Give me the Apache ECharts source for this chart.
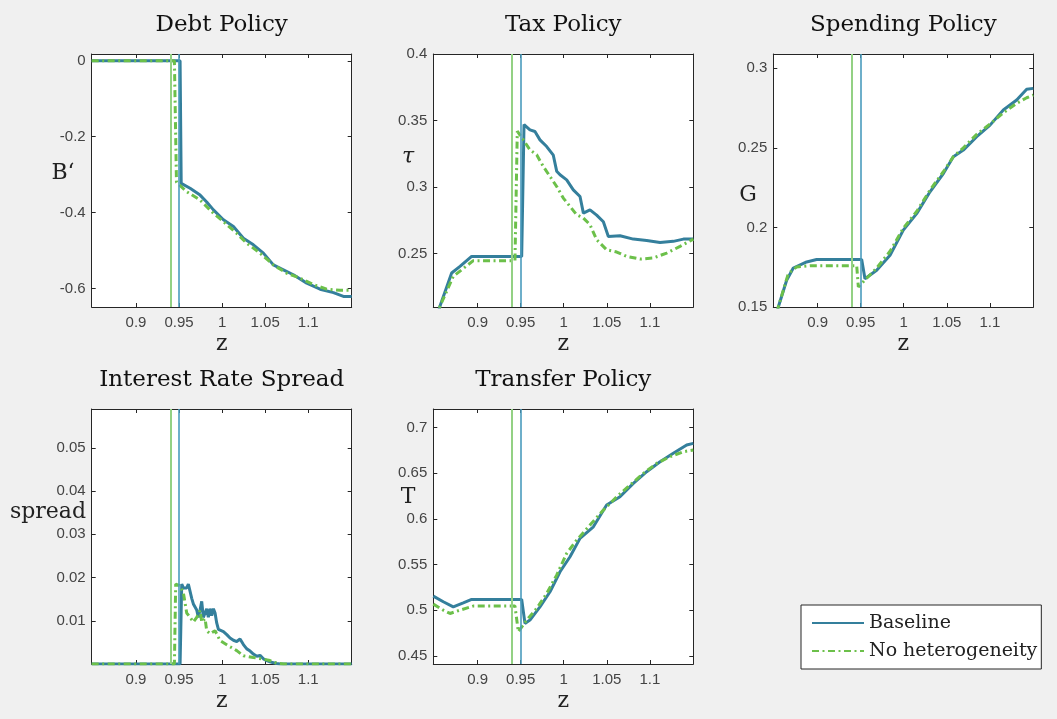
<!DOCTYPE html>
<html>
<head>
<meta charset="utf-8">
<script src="https://cdn.jsdelivr.net/npm/echarts@6/dist/echarts.min.js"></script>
<style>
html,body{margin:0;padding:0;background:#f0f0f0;}
#chart{width:1057px;height:719px;}
</style>
</head>
<body>
<div id="chart"></div>
<script>
// ---------- DATA ----------
const zTicks = [0.9, 0.95, 1, 1.05, 1.1];
const debtTicks = [-0.6, -0.4, -0.2, 0];
const taxTicks = [0.25, 0.3, 0.35, 0.4];
const spendTicks = [0.15, 0.2, 0.25, 0.3];
const spreadTicks = [0.01, 0.02, 0.03, 0.04, 0.05];
const transferTicks = [0.45, 0.5, 0.55, 0.6, 0.65, 0.7];

const thresholdBase = 0.9515;
const thresholdNoHet = 0.945;

// Debt policy B'
const debtBaseZ = [0.8486, 0.9512, 0.9525, 0.9628, 0.9744, 0.9821, 0.9899, 1.0015, 1.0131, 1.0247, 1.0363, 1.0479, 1.0595, 1.0711, 1.0827, 1.0982, 1.1137, 1.1292, 1.1408, 1.1504];
const debtBaseV = [0, 0, -0.323, -0.336, -0.354, -0.372, -0.393, -0.419, -0.437, -0.468, -0.485, -0.507, -0.538, -0.551, -0.564, -0.586, -0.602, -0.611, -0.621, -0.621];
const debtNoHetZ = [0.8486, 0.9446, 0.9470, 0.9589, 0.9744, 0.9899, 1.0015, 1.0170, 1.0286, 1.0440, 1.0595, 1.0750, 1.0905, 1.1060, 1.1214, 1.1369, 1.1504];
const debtNoHetV = [0, 0, -0.320, -0.345, -0.367, -0.402, -0.424, -0.455, -0.481, -0.507, -0.538, -0.560, -0.573, -0.590, -0.602, -0.605, -0.605];

// Tax policy tau
const taxBaseZ = [0.8490, 0.8563, 0.8699, 0.8796, 0.8931, 0.9512, 0.9539, 0.9608, 0.9666, 0.9724, 0.9802, 0.9879, 0.9918, 0.9957, 1.0034, 1.0111, 1.0189, 1.0228, 1.0305, 1.0382, 1.0460, 1.0518, 1.0653, 1.0808, 1.0963, 1.1118, 1.1272, 1.1389, 1.1504];
const taxBaseV = [0.190, 0.2105, 0.2355, 0.2405, 0.248, 0.248, 0.347, 0.343, 0.3418, 0.3355, 0.3305, 0.324, 0.312, 0.3093, 0.3055, 0.298, 0.293, 0.2805, 0.283, 0.279, 0.274, 0.263, 0.2635, 0.261, 0.260, 0.2585, 0.2593, 0.261, 0.261];
const taxNoHetZ = [0.8490, 0.8563, 0.8718, 0.8950, 0.9434, 0.9461, 0.9531, 0.9608, 0.9686, 0.9763, 0.9841, 0.9918, 0.9995, 1.0073, 1.0150, 1.0228, 1.0305, 1.0382, 1.0498, 1.0615, 1.0731, 1.0885, 1.1040, 1.1195, 1.1350, 1.1504];
const taxNoHetV = [0.190, 0.2105, 0.233, 0.2448, 0.2448, 0.342, 0.3355, 0.328, 0.3243, 0.3155, 0.308, 0.3005, 0.2918, 0.2855, 0.2793, 0.2768, 0.2718, 0.2605, 0.253, 0.2513, 0.248, 0.246, 0.2468, 0.2505, 0.2555, 0.261];

// Spending policy G
const spendBaseZ = [0.8490, 0.8544, 0.8641, 0.8718, 0.8873, 0.8989, 0.9512, 0.9550, 0.9686, 0.9841, 0.9995, 1.0150, 1.0305, 1.0460, 1.0576, 1.0692, 1.0847, 1.1002, 1.1156, 1.1311, 1.1427, 1.1504];
const spendBaseV = [0.137, 0.150, 0.1668, 0.1745, 0.1783, 0.1798, 0.1798, 0.1678, 0.1731, 0.1825, 0.1983, 0.2087, 0.2224, 0.2339, 0.2444, 0.2486, 0.2570, 0.2643, 0.2738, 0.2801, 0.2868, 0.2874];
const spendNoHetZ = [0.8490, 0.8544, 0.8660, 0.8757, 0.8912, 0.9454, 0.9473, 0.9550, 0.9686, 0.9841, 0.9995, 1.0150, 1.0305, 1.0460, 1.0576, 1.0692, 1.0847, 1.1002, 1.1156, 1.1311, 1.1427, 1.1504];
const spendNoHetV = [0.137, 0.150, 0.171, 0.1752, 0.176, 0.176, 0.1626, 0.1670, 0.1745, 0.1850, 0.1995, 0.2100, 0.2235, 0.2350, 0.2445, 0.2500, 0.2585, 0.2650, 0.2720, 0.2780, 0.2815, 0.2832];

// Interest rate spread
const spreadBaseZ = [0.8486, 0.9512, 0.9531, 0.9550, 0.9589, 0.9608, 0.9628, 0.9647, 0.9666, 0.9705, 0.9724, 0.9744, 0.9763, 0.9782, 0.9802, 0.9821, 0.9840, 0.9860, 0.9879, 0.9899, 0.9918, 0.9937, 0.9957, 1.0015, 1.0054, 1.0092, 1.0131, 1.0170, 1.0208, 1.0228, 1.0247, 1.0286, 1.0325, 1.0363, 1.0402, 1.0440, 1.0479, 1.0518, 1.0556, 1.0595, 1.0634, 1.0673, 1.1504];
const spreadBaseV = [0, 0, 0.0185, 0.0176, 0.0176, 0.0185, 0.0185, 0.0152, 0.0139, 0.0125, 0.0108, 0.0125, 0.0145, 0.0108, 0.0118, 0.0128, 0.0108, 0.0128, 0.0112, 0.0128, 0.0118, 0.0095, 0.0080, 0.0075, 0.0068, 0.0060, 0.0055, 0.0052, 0.0058, 0.0060, 0.0045, 0.0035, 0.0030, 0.0023, 0.0018, 0.0020, 0.0012, 0.0008, 0.0005, 0.0003, 0.0001, 0, 0];
const spreadNoHetZ = [0.8486, 0.9446, 0.9461, 0.9512, 0.9550, 0.9589, 0.9628, 0.9666, 0.9705, 0.9744, 0.9763, 0.9802, 0.9821, 0.9860, 0.9918, 0.9976, 1.0073, 1.0170, 1.0247, 1.0363, 1.0460, 1.0556, 1.0634, 1.0711, 1.1504];
const spreadNoHetV = [0, 0, 0.0185, 0.0181, 0.0165, 0.0118, 0.0108, 0.0097, 0.0108, 0.0124, 0.0097, 0.0105, 0.0077, 0.0070, 0.0077, 0.0054, 0.0042, 0.0031, 0.0019, 0.0015, 0.0012, 0.0008, 0.0002, 0, 0];

// Transfer policy T
const transferBaseZ = [0.8486, 0.8602, 0.8718, 0.8834, 0.8931, 0.9512, 0.9550, 0.9608, 0.9724, 0.9841, 0.9957, 1.0073, 1.0189, 1.0344, 1.0498, 1.0653, 1.0808, 1.0963, 1.1118, 1.1272, 1.1427, 1.1504];
const transferBaseV = [0.5154, 0.5092, 0.5037, 0.5081, 0.5118, 0.5118, 0.4855, 0.4891, 0.5037, 0.5202, 0.5421, 0.5586, 0.5787, 0.5914, 0.6152, 0.6243, 0.6390, 0.6518, 0.6627, 0.6719, 0.6810, 0.6828];
const transferNoHetZ = [0.8486, 0.8602, 0.8680, 0.8796, 0.8950, 0.9434, 0.9473, 0.9570, 0.9686, 0.9802, 0.9918, 1.0034, 1.0150, 1.0305, 1.0460, 1.0615, 1.0769, 1.0924, 1.1079, 1.1234, 1.1389, 1.1504];
const transferNoHetV = [0.5066, 0.5000, 0.4964, 0.5000, 0.5045, 0.5045, 0.4763, 0.4891, 0.5019, 0.5183, 0.5384, 0.5622, 0.5768, 0.5933, 0.6097, 0.6243, 0.6371, 0.6499, 0.6609, 0.6682, 0.6737, 0.6755];

const seriesNames = ['Baseline', 'No heterogeneity'];

// ---------- LAYOUT / STYLE ----------
const BLUE = '#347f9c';
const GREEN = '#6cc04a';
const VBLUE = '#4a9bbd';
const VGREEN = '#93d184';
const AX = '#262626';
const TICKFONT = 'Liberation Sans';
const SERIF = 'DejaVu Serif';

function pairs(xs, ys) { return xs.map((x, i) => [x, ys[i]]); }
function fmt(v) { return String(+(+v).toFixed(3)); }

const panels = [
  { title: 'Debt Policy', ylab: 'B‘', ylabPos: [63, 173], yTicks: debtTicks, ymin: -0.649, ymax: 0.018,
    grid: { left: 91.7, top: 54, width: 260, height: 253 },
    base: pairs(debtBaseZ, debtBaseV), nohet: pairs(debtNoHetZ, debtNoHetV) },
  { title: 'Tax Policy', ylab: 'τ', ylabPos: [408, 157], italic: true, yTicks: taxTicks, ymin: 0.21, ymax: 0.4,
    grid: { left: 433.3, top: 54, width: 260, height: 253 },
    base: pairs(taxBaseZ, taxBaseV), nohet: pairs(taxNoHetZ, taxNoHetV) },
  { title: 'Spending Policy', ylab: 'G', ylabPos: [748, 195], yTicks: spendTicks, ymin: 0.15, ymax: 0.309,
    grid: { left: 773.3, top: 54, width: 260, height: 253 },
    base: pairs(spendBaseZ, spendBaseV), nohet: pairs(spendNoHetZ, spendNoHetV) },
  { title: 'Interest Rate Spread', ylab: 'spread', ylabPos: [48, 512], yTicks: spreadTicks, ymin: 0, ymax: 0.059,
    grid: { left: 91.7, top: 409, width: 260, height: 255 },
    base: pairs(spreadBaseZ, spreadBaseV), nohet: pairs(spreadNoHetZ, spreadNoHetV) },
  { title: 'Transfer Policy', ylab: 'T', ylabPos: [408, 497], yTicks: transferTicks, ymin: 0.441, ymax: 0.7205,
    grid: { left: 433.3, top: 409, width: 260, height: 255 },
    base: pairs(transferBaseZ, transferBaseV), nohet: pairs(transferNoHetZ, transferNoHetV) }
];

const grids = [], xAxes = [], yAxes = [], series = [], graphics = [];
const labelStyle = { fontFamily: TICKFONT, fontSize: 15, color: '#444' };

panels.forEach((p, i) => {
  grids.push(Object.assign({ show: true, backgroundColor: '#ffffff', borderWidth: 0, containLabel: false }, p.grid));
  ['bottom', 'top'].forEach(pos => {
    xAxes.push({
      type: 'value', gridIndex: i, position: pos, min: 0.8486, max: 1.1504,
      axisLine: { show: true, onZero: false, lineStyle: { color: AX, width: 1 } },
      axisTick: { show: true, inside: true, length: 4, customValues: zTicks, lineStyle: { color: AX } },
      axisLabel: pos === 'bottom'
        ? Object.assign({ show: true, customValues: zTicks, formatter: fmt, margin: 8 }, labelStyle)
        : { show: false },
      splitLine: { show: false }
    });
  });
  ['left', 'right'].forEach(pos => {
    yAxes.push({
      type: 'value', gridIndex: i, position: pos, min: p.ymin, max: p.ymax,
      axisLine: { show: true, onZero: false, lineStyle: { color: AX, width: 1 } },
      axisTick: { show: true, inside: true, length: 4, customValues: p.yTicks, lineStyle: { color: AX } },
      axisLabel: pos === 'left'
        ? Object.assign({ show: true, customValues: p.yTicks, formatter: fmt, margin: 6 }, labelStyle)
        : { show: false },
      splitLine: { show: false }
    });
  });
  series.push({
    name: seriesNames[0], type: 'line', xAxisIndex: 2 * i, yAxisIndex: 2 * i,
    data: p.base, symbol: 'none', showSymbol: false, clip: true,
    lineStyle: { color: BLUE, width: 3 }, itemStyle: { color: BLUE },
    markLine: { silent: true, symbol: ['none', 'none'], label: { show: false },
      lineStyle: { color: VBLUE, width: 1.6, type: 'solid' }, data: [{ xAxis: thresholdBase }] },
    z: 3
  });
  series.push({
    name: seriesNames[1], type: 'line', xAxisIndex: 2 * i, yAxisIndex: 2 * i,
    data: p.nohet, symbol: 'none', showSymbol: false, clip: true,
    lineStyle: { color: GREEN, width: 3, type: [7, 3.5, 2, 3.5] }, itemStyle: { color: GREEN },
    markLine: { silent: true, symbol: ['none', 'none'], label: { show: false },
      lineStyle: { color: VGREEN, width: 2, type: 'solid' }, data: [{ xAxis: thresholdNoHet }] },
    z: 4
  });
  const cx = p.grid.left + p.grid.width / 2;
  graphics.push({ type: 'text', x: cx, y: p.grid.top - 29, style: { text: p.title, fontFamily: SERIF, fontSize: 23, fill: '#111', align: 'center', verticalAlign: 'middle' } });
  graphics.push({ type: 'text', x: cx, y: p.grid.top + p.grid.height + 37, style: { text: 'z', fontFamily: SERIF, fontSize: 22, fill: '#222', align: 'center', verticalAlign: 'middle' } });
  graphics.push({ type: 'text', x: p.ylabPos[0], y: p.ylabPos[1], style: { text: p.ylab, fontFamily: SERIF, fontStyle: p.italic ? 'italic' : 'normal', fontSize: 22, fill: '#222', align: 'center', verticalAlign: 'middle' } });
});

const chart = echarts.init(document.getElementById('chart'), null, { renderer: 'canvas' });
chart.setOption({
  backgroundColor: '#f0f0f0',
  animation: false,
  grid: grids,
  xAxis: xAxes,
  yAxis: yAxes,
  series: series,
  graphic: graphics,
  legend: {
    data: seriesNames, orient: 'vertical', left: 801, top: 605,
    backgroundColor: '#ffffff', borderColor: AX, borderWidth: 1, borderRadius: 0,
    padding: [8, 4, 8, 10], itemGap: 8, itemWidth: 52, itemHeight: 14,
    itemStyle: { opacity: 0, borderWidth: 0 },
    textStyle: { fontFamily: SERIF, fontSize: 19, color: '#222', lineHeight: 20 },
    selectedMode: false
  }
});
</script>
</body>
</html>
